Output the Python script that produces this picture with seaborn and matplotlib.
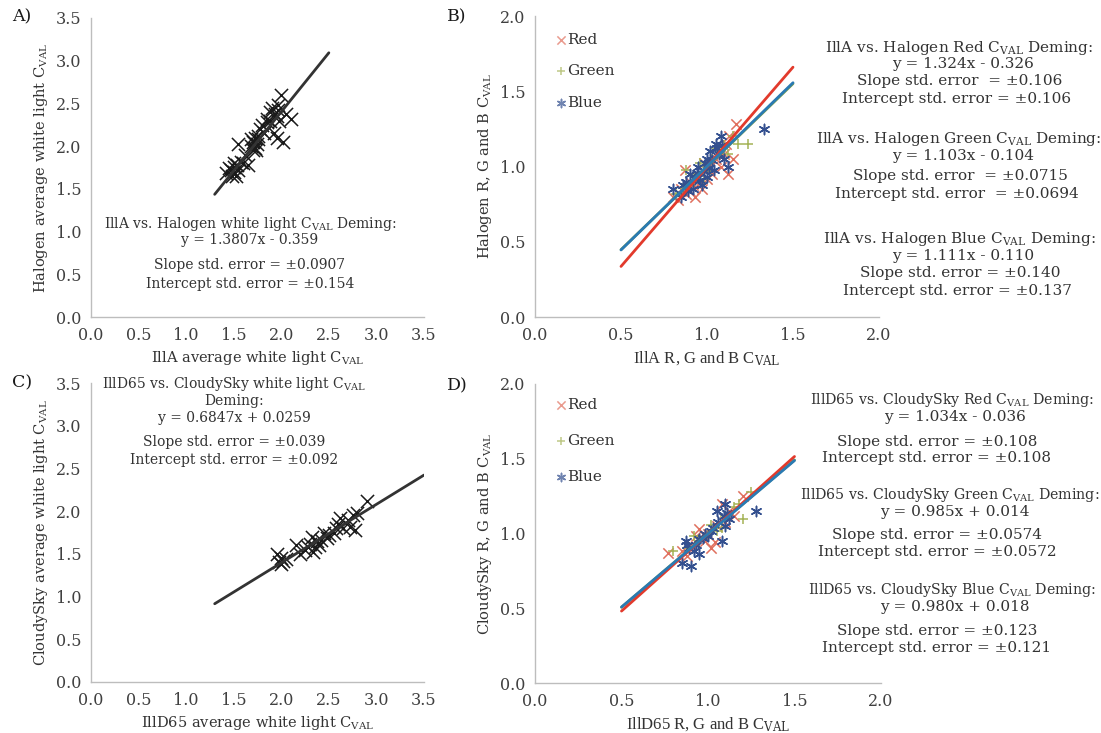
import numpy as np
import pandas as pd
import matplotlib
matplotlib.use("Agg")
import matplotlib.pyplot as plt
import seaborn as sns

# ---- data ----
# Panel A: IllA vs Halogen white light
a_x = [1.42, 1.45, 1.47, 1.48, 1.50, 1.50, 1.52, 1.53, 1.55, 1.55, 1.58, 1.60,
       1.62, 1.65, 1.68, 1.68, 1.70, 1.70, 1.72, 1.72, 1.74, 1.75, 1.76, 1.78,
       1.80, 1.82, 1.85, 1.88, 1.88, 1.90, 1.92, 1.93, 1.95, 1.95, 1.97, 1.98,
       2.00, 2.02, 2.05, 2.10, 1.50, 1.73, 1.85, 1.97]
a_y = [1.68, 1.75, 1.72, 1.65, 1.80, 1.70, 1.65, 1.78, 2.03, 1.72, 1.82, 1.80,
       1.90, 1.78, 2.08, 2.00, 2.05, 1.95, 2.10, 1.98, 2.02, 2.08, 2.12, 2.20,
       2.25, 2.15, 2.32, 2.30, 2.40, 2.45, 2.15, 2.38, 2.35, 2.10, 2.42, 2.30,
       2.60, 2.05, 2.38, 2.32, 1.76, 1.96, 2.28, 2.48]

# Panel C: IllD65 vs CloudySky white light
c_x = [1.95, 1.98, 2.00, 2.00, 2.02, 2.05, 2.15, 2.20, 2.25, 2.30, 2.32, 2.33,
       2.35, 2.38, 2.40, 2.45, 2.48, 2.50, 2.55, 2.60, 2.62, 2.65, 2.70, 2.72,
       2.75, 2.78, 2.80, 2.90, 2.28, 2.42, 2.58]
c_y = [1.50, 1.40, 1.45, 1.38, 1.42, 1.44, 1.60, 1.50, 1.55, 1.62, 1.70, 1.52,
       1.58, 1.65, 1.60, 1.75, 1.68, 1.72, 1.75, 1.85, 1.92, 1.80, 1.90, 1.82,
       1.95, 1.78, 1.98, 2.12, 1.58, 1.66, 1.80]

# Panel B: IllA vs Halogen R, G, B
b_red_x = [0.80, 0.85, 0.88, 0.90, 0.92, 0.95, 0.97, 1.00, 1.02, 1.05, 1.07,
           1.10, 1.12, 1.15, 1.17, 1.13, 0.87, 0.93, 1.08, 0.98, 0.83, 0.96,
           1.03, 1.11, 0.90, 1.00]
b_red_y = [0.80, 0.85, 0.82, 0.90, 0.88, 0.93, 0.85, 0.98, 1.00, 1.05, 1.10,
           1.08, 0.95, 1.05, 1.28, 1.20, 0.98, 0.80, 1.00, 1.02, 0.78, 0.90,
           0.95, 1.15, 0.84, 0.92]
b_green_x = [0.82, 0.88, 0.92, 0.95, 1.00, 1.03, 1.08, 1.12, 1.18, 1.24, 1.15,
             0.98, 0.90, 1.05, 0.86, 0.96, 1.02, 1.10]
b_green_y = [0.82, 0.98, 0.90, 0.95, 1.00, 1.05, 1.10, 1.08, 1.15, 1.15, 1.20,
             0.92, 0.88, 1.12, 0.86, 1.02, 0.97, 1.14]
b_blue_x = [0.80, 0.85, 0.88, 0.90, 0.93, 0.95, 0.98, 1.00, 1.02, 1.05, 1.08,
            1.10, 1.12, 1.33, 0.97, 1.04, 0.92, 1.06, 1.00, 0.86, 0.94, 0.99,
            1.03, 1.07, 0.89, 1.01, 1.09, 0.96]
b_blue_y = [0.85, 0.80, 0.90, 0.95, 0.92, 1.00, 0.97, 1.05, 1.10, 1.15, 1.20,
            1.05, 1.00, 1.25, 0.88, 0.98, 0.85, 1.12, 0.93, 0.88, 0.96, 1.02,
            1.04, 1.08, 0.84, 0.99, 1.14, 0.91]

# Panel D: IllD65 vs CloudySky R, G, B
d_red_x = [0.77, 0.85, 0.90, 0.95, 0.98, 1.02, 1.05, 1.08, 1.12, 1.20, 1.00,
           1.10, 0.93, 1.15, 0.88, 1.04, 0.97]
d_red_y = [0.87, 0.88, 0.92, 1.03, 0.95, 0.90, 1.05, 1.20, 1.15, 1.25, 1.00,
           1.08, 0.98, 1.12, 0.85, 0.94, 1.00]
d_green_x = [0.80, 0.88, 0.95, 1.00, 1.05, 1.10, 1.15, 1.20, 1.25, 1.18, 0.92,
             1.02, 1.08]
d_green_y = [0.88, 0.90, 0.95, 1.00, 1.02, 1.12, 1.18, 1.10, 1.28, 1.20, 0.98,
             1.06, 1.04]
d_blue_x = [0.85, 0.87, 0.88, 0.90, 0.92, 0.95, 0.98, 1.00, 1.02, 1.05, 1.08,
            1.10, 1.12, 1.28, 1.10, 0.95, 1.06, 0.93, 0.97, 1.03, 1.09, 1.11,
            0.89]
d_blue_y = [0.80, 0.95, 0.92, 0.78, 0.88, 0.96, 1.00, 0.98, 1.02, 1.15, 0.95,
            1.20, 1.10, 1.15, 1.05, 0.86, 1.08, 0.92, 0.97, 1.04, 1.12, 1.14,
            0.90]

# Deming fits (slope, intercept, x range)
a_fit = (1.3807, -0.359, [1.3, 2.5])
c_fit = (0.6847, 0.0259, [1.3, 3.5])
b_fits = {"Red": (1.324, -0.326), "Green": (1.103, -0.104), "Blue": (1.111, -0.110)}
d_fits = {"Red": (1.034, -0.036), "Green": (0.985, 0.014), "Blue": (0.980, 0.018)}
rgb_range = [0.5, 1.5]

# ---- style ----
sns.set_style("white")
plt.rcParams["font.family"] = ["DejaVu Serif"]
plt.rcParams["mathtext.fontset"] = "dejavuserif"

W, H = 1101, 733
TICK_COL = "#404040"
SPINE_COL = "#bdbdbd"
TXT_COL = "#333333"
marker_col = {"Red": "#e0705e", "Green": "#a4b356", "Blue": "#34508f"}
line_col = {"Red": "#e23a2c", "Green": "#7ea04a", "Blue": "#2a7ab3"}
markers = {"Red": "x", "Green": "+", "Blue": (6, 2, 0)}
CV = r"C$_{\mathrm{VAL}}$"
TIMES = "Liberation Serif"


def rect(l, t, r, b):
    return [l / W, 1 - b / H, (r - l) / W, (b - t) / H]


def style_axes(ax, lim, step):
    ax.set_xlim(0, lim)
    ax.set_ylim(0, lim)
    ticks = np.arange(0, lim + 0.001, step)
    ax.set_xticks(ticks)
    ax.set_yticks(ticks)
    ax.set_xticklabels([f"{t:.1f}" for t in ticks])
    ax.set_yticklabels([f"{t:.1f}" for t in ticks])
    for s in ["top", "right"]:
        ax.spines[s].set_visible(False)
    for s in ["left", "bottom"]:
        ax.spines[s].set_color(SPINE_COL)
        ax.spines[s].set_linewidth(1.0)
    ax.tick_params(axis="both", direction="out", length=4, width=1,
                   color=SPINE_COL, labelcolor=TICK_COL, labelsize=11.5, pad=3)


def put_lines(lines, size):
    for line in lines:
        txt, x, y = line[:3]
        fs = line[3] if len(line) > 3 else size
        fig.text(x / W, 1 - y / H, txt, ha="center", va="center",
                 fontsize=fs, color=TXT_COL)


fig = plt.figure(figsize=(W / 100, H / 100), dpi=100)

# ---- A ----
axA = fig.add_axes(rect(91, 18, 424, 317))
sns.scatterplot(x=a_x, y=a_y, marker="x", color="#1a1a1a", s=90,
                linewidth=1.1, ax=axA)
xs = np.array(a_fit[2])
sns.lineplot(x=xs, y=a_fit[0] * xs + a_fit[1], color=TXT_COL, lw=2, ax=axA)
style_axes(axA, 3.5, 0.5)
axA.set_xlabel("IllA average white light " + CV, fontsize=10.5, color=TXT_COL)
axA.set_ylabel("Halogen average white light " + CV, fontsize=10.5, color=TXT_COL)
put_lines([("IllA vs. Halogen white light " + CV + " Deming:", 250, 224),
           ("y = 1.3807x - 0.359", 250, 240),
           ("Slope std. error = \u00b10.0907", 250, 265),
           ("Intercept std. error = \u00b10.154", 250, 284)], 10)

# ---- C ----
axC = fig.add_axes(rect(91, 383, 424, 682))
sns.scatterplot(x=c_x, y=c_y, marker="x", color="#1a1a1a", s=90,
                linewidth=1.1, ax=axC)
xs = np.array(c_fit[2])
sns.lineplot(x=xs, y=c_fit[0] * xs + c_fit[1], color=TXT_COL, lw=2, ax=axC)
style_axes(axC, 3.5, 0.5)
axC.set_xlabel("IllD65 average white light " + CV, fontsize=10.5, color=TXT_COL)
axC.set_ylabel("CloudySky average white light " + CV, fontsize=10.5, color=TXT_COL)
put_lines([("IllD65 vs. CloudySky white light " + CV, 234, 384),
           ("Deming:", 234, 401),
           ("y = 0.6847x + 0.0259", 234, 418),
           ("Slope std. error = \u00b10.039", 234, 442),
           ("Intercept std. error = \u00b10.092", 234, 460)], 10)


def rgb_panel(ax, data, fits, spacing, top):
    for name, (xv, yv) in data.items():
        sns.scatterplot(x=xv, y=yv, marker=markers[name], color=marker_col[name],
                        s=55, linewidth=1.1, ax=ax, label=name, zorder=3)
    xs = np.array(rgb_range)
    for name in ["Green", "Red", "Blue"]:
        m, c = fits[name]
        sns.lineplot(x=xs, y=m * xs + c, color=line_col[name], lw=2, ax=ax,
                     legend=False, zorder=4)
    style_axes(ax, 2.0, 0.5)
    leg = ax.legend(loc="upper left", bbox_to_anchor=(0.035, top), frameon=False,
                    labelspacing=spacing, handletextpad=-0.1, handlelength=1.0,
                    markerscale=0.8, borderaxespad=0, fontsize=11,
                    labelcolor=TXT_COL)
    for h in leg.legend_handles:
        h.set_alpha(0.7)


# ---- B ----
axB = fig.add_axes(rect(535, 16, 879, 317))
rgb_panel(axB, {"Red": (b_red_x, b_red_y), "Green": (b_green_x, b_green_y),
                "Blue": (b_blue_x, b_blue_y)}, b_fits, 1.15, 0.965)
axB.set_xlabel("IllA R, G and B " + CV, fontsize=12, family=TIMES, color=TXT_COL)
axB.set_ylabel("Halogen R, G and B " + CV, fontsize=10.5, color=TXT_COL)
put_lines([("IllA vs. Halogen Red " + CV + " Deming:", 959, 48),
           ("y = 1.324x - 0.326", 963, 64),
           ("Slope std. error  = \u00b10.106", 960, 81),
           ("Intercept std. error = \u00b10.106", 957, 99),
           ("IllA vs. Halogen Green " + CV + " Deming:", 959, 139),
           ("y = 1.103x - 0.104", 963, 156),
           ("Slope std. error  = \u00b10.0715", 960, 176),
           ("Intercept std. error  = \u00b10.0694", 957, 194),
           ("IllA vs. Halogen Blue " + CV + " Deming:", 959, 239),
           ("y = 1.111x - 0.110", 963, 256),
           ("Slope std. error = \u00b10.140", 960, 273),
           ("Intercept std. error = \u00b10.137", 957, 291)], 11)

# ---- D ----
axD = fig.add_axes(rect(535, 384, 881, 683))
rgb_panel(axD, {"Red": (d_red_x, d_red_y), "Green": (d_green_x, d_green_y),
                "Blue": (d_blue_x, d_blue_y)}, d_fits, 1.45, 0.975)
axD.set_xlabel("IllD65 R, G and B " + CV, fontsize=12, family=TIMES, color=TXT_COL)
axD.set_ylabel("CloudySky R, G and B " + CV, fontsize=10.5, color=TXT_COL)
HD = 10.2
put_lines([("IllD65 vs. CloudySky Red " + CV + " Deming:", 952, 400, HD),
           ("y = 1.034x - 0.036", 955, 417),
           ("Slope std. error = \u00b10.108", 937, 442),
           ("Intercept std. error = \u00b10.108", 937, 458),
           ("IllD65 vs. CloudySky Green " + CV + " Deming:", 950, 495, HD),
           ("y = 0.985x + 0.014", 955, 512),
           ("Slope std. error = \u00b10.0574", 937, 535),
           ("Intercept std. error = \u00b10.0572", 937, 552),
           ("IllD65 vs. CloudySky Blue " + CV + " Deming:", 952, 590, HD),
           ("y = 0.980x + 0.018", 955, 607),
           ("Slope std. error = \u00b10.123", 937, 631),
           ("Intercept std. error = \u00b10.121", 937, 648)], 11)

# panel letters
for lab, x, y in [("A)", 12, 17), ("B)", 447, 17), ("C)", 12, 383), ("D)", 447, 386)]:
    fig.text(x / W, 1 - y / H, lab, ha="left", va="center", fontsize=12.5,
             color="#1a1a1a")

fig.savefig("out.png", dpi=100)
